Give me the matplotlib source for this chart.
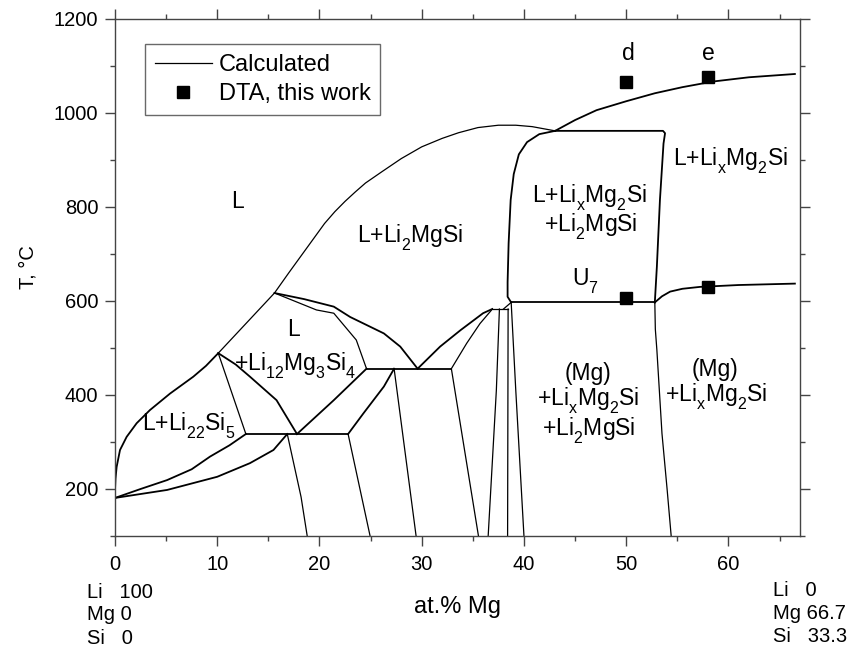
import matplotlib
matplotlib.use("Agg")
import matplotlib.pyplot as plt
import matplotlib._mathtext as mathtext_internals
from matplotlib.lines import Line2D

plt.rcParams['font.family'] = ['Liberation Sans', 'DejaVu Sans']
plt.rcParams['mathtext.fontset'] = 'custom'
plt.rcParams['mathtext.rm'] = 'Liberation Sans'
plt.rcParams['mathtext.it'] = 'Liberation Sans'
plt.rcParams['mathtext.default'] = 'regular'
# the original drops its subscripts deeper than matplotlib does
mathtext_internals.FontConstantsBase.sub1 = 0.62

# phase boundaries, (at.% Mg, T in C)
liq_li22si5 = [(0, 181), (0, 198), (0.05, 222), (0.16, 247), (0.49, 283), (1.14, 311),
               (2.12, 340), (3.42, 368), (5.38, 403), (7.66, 439), (8.9, 462), (10.1, 489)]
solvus_a = [(0, 181), (2.5, 200), (5.1, 219), (7.5, 242), (9.3, 269), (11.2, 293), (12.8, 317)]
solvus_b = [(0, 181), (5.1, 198), (10.0, 226), (13.2, 255), (15.5, 283), (16.85, 317)]
tie_489 = [(10.1, 489), (12.8, 317)]
liq_li12 = [(10.1, 489), (11.8, 465), (13.2, 439), (15.8, 389), (17.8, 317)]
liq_upper = [(10.1, 489), (15.6, 617), (17.0, 660), (18.6, 708), (20.5, 765), (21.5, 790),
             (22.5, 812), (23.5, 832), (24.5, 851), (26.1, 875), (28.0, 903), (30.0, 928),
             (32.0, 946), (33.6, 958), (35.5, 969), (37.5, 974), (39.2, 974), (40.8, 971),
             (43.05, 962)]
curve_li2_a = [(15.6, 617), (18.5, 604), (21.4, 588), (23.0, 566), (26.3, 531), (27.9, 503), (29.6, 456)]
curve_li2_b = [(15.6, 617), (19.7, 581), (21.4, 574), (23.6, 517), (24.6, 456)]
line_318 = [(12.8, 317), (22.8, 317)]
line_456 = [(24.6, 456), (32.9, 456)]
rise_a = [(17.8, 317), (21.4, 389), (24.6, 456)]
rise_b = [(22.8, 317), (24.3, 361), (26.3, 418), (27.3, 456)]
rise_c = [(29.6, 456), (31.8, 503), (33.8, 538), (36.0, 574), (36.9, 583)]
rise_d = [(32.9, 456), (34.4, 510), (35.7, 552), (36.8, 580)]
top_583 = [(36.9, 583), (38.45, 583)]
wedge = [(38.0, 583), (38.75, 597)]
drop_1 = [(16.85, 317), (18.2, 183), (18.8, 100)]
drop_2 = [(22.8, 317), (24.95, 100)]
drop_3 = [(27.3, 456), (29.45, 100)]
drop_4 = [(32.9, 456), (35.55, 100)]
drop_5 = [(37.6, 583), (37.3, 410), (36.5, 100)]
drop_6 = [(38.45, 583), (38.4, 100)]
drop_7 = [(38.75, 597), (39.2, 410), (40.0, 100)]
u7_line = [(38.75, 597), (52.8, 597)]
three_left = [(43.05, 962), (41.5, 955), (40.3, 938), (39.5, 912), (39.0, 870), (38.7, 815),
              (38.5, 723), (38.4, 640), (38.4, 609), (38.75, 597)]
three_top = [(43.05, 962), (53.6, 962), (53.8, 957), (53.65, 935), (53.3, 815), (53.0, 673), (52.8, 597)]
mg_bound = [(52.8, 597), (52.85, 540), (53.0, 496), (53.5, 318), (54.0, 200), (54.4, 100)]
liq_lixmg2si = [(43.05, 962), (45.0, 985), (47.1, 1006), (50.0, 1025), (52.8, 1042),
                (55.5, 1055), (58.5, 1067), (62.0, 1076), (66.5, 1083)]
sol_lixmg2si = [(52.8, 597), (53.5, 610), (54.3, 620), (55.5, 626), (57.2, 630), (61.0, 634), (66.5, 637)]

thick = [liq_li22si5, solvus_a, solvus_b, liq_li12, curve_li2_a, line_318, line_456,
         rise_a, rise_b, rise_c, u7_line, three_left, three_top, liq_lixmg2si, sol_lixmg2si]
thin = [tie_489, liq_upper, curve_li2_b, rise_d, top_583, wedge, drop_1, drop_2, drop_3,
        drop_4, drop_5, drop_6, drop_7, mg_bound]

# DTA points
dta_x = [50, 58, 50, 58]
dta_t = [1067, 1076, 607, 630]

# region labels: text, x, baseline T
labels = [
    ("L", 12.0, 798),
    ("L+Li$_2$MgSi", 28.9, 723),
    ("L+Li$_x$Mg$_2$Si", 46.4, 809),
    ("+Li$_2$MgSi", 46.5, 747),
    ("L+Li$_x$Mg$_2$Si", 60.2, 888),
    ("U$_7$", 46.0, 632),
    ("d", 50.2, 1113),
    ("e", 58.0, 1113),
    ("L", 17.5, 525),
    ("+Li$_{12}$Mg$_3$Si$_4$", 17.6, 452),
    ("L+Li$_{22}$Si$_5$", 7.2, 323),
    ("(Mg)", 46.3, 432),
    ("+Li$_x$Mg$_2$Si", 46.3, 377),
    ("+Li$_2$MgSi", 46.3, 313),
    ("(Mg)", 58.7, 440),
    ("+Li$_x$Mg$_2$Si", 58.8, 386),
]

corner_left = ["Li   100", "Mg 0", "Si   0"]
corner_right = ["Li   0", "Mg 66.7", "Si   33.3"]

W, H = 853, 650
fig = plt.figure(figsize=(W / 100, H / 100), dpi=100)
ax = fig.add_axes([115 / W, 1 - 536 / H, 685 / W, 517 / H])

for c in thick:
    ax.plot([p[0] for p in c], [p[1] for p in c], color='black', lw=1.3)
for c in thin:
    ax.plot([p[0] for p in c], [p[1] for p in c], color='black', lw=0.9)

ax.plot(dta_x, dta_t, 's', color='black', ms=8.5, ls='none')

for txt, x, t in labels:
    ax.text(x, t, txt, ha='center', va='baseline', fontsize=16.5)

ax.set_xlim(0, 67)
ax.set_ylim(100, 1200)
ax.set_xticks([0, 10, 20, 30, 40, 50, 60])
ax.set_xticks(range(5, 67, 10), minor=True)
ax.set_yticks([200, 400, 600, 800, 1000, 1200])
ax.set_yticks([100, 300, 500, 700, 900, 1100], minor=True)
ax.tick_params(which='both', direction='out', top=True, right=True, colors='#444444',
               labelcolor='black', labelsize=14.5, width=1)
ax.tick_params(which='major', length=7)
ax.tick_params(axis='x', which='major', pad=7)
ax.tick_params(axis='y', which='major', pad=5)
ax.tick_params(which='minor', length=3.6)
for s in ax.spines.values():
    s.set_color('#444444')
    s.set_linewidth(1)

ax.set_ylabel("T, °C", fontsize=14.5)
ax.yaxis.set_label_coords(-0.113, 0.52)
ax.set_xlabel("at.% Mg", fontsize=17)
ax.xaxis.set_label_coords(0.5, -0.116)

handles = [Line2D([], [], color='black', lw=0.9),
           Line2D([], [], marker='s', color='black', ls='none', ms=8.5)]
leg = ax.legend(handles, ["Calculated", "DTA, this work"], loc='upper left',
                bbox_to_anchor=(0.0438, 0.9516), borderaxespad=0, fontsize=17,
                frameon=True, fancybox=False, handlelength=2.4, handletextpad=0.3,
                labelspacing=0.32, borderpad=0.42)
leg.get_frame().set_edgecolor('#444444')
leg.get_frame().set_linewidth(1)

for i, s in enumerate(corner_left):
    fig.text(87 / W, 1 - (592 + 23 * i) / H, s, fontsize=14.5, va='center', ha='left')
for i, s in enumerate(corner_right):
    fig.text(773 / W, 1 - (590 + 23.5 * i) / H, s, fontsize=14.5, va='center', ha='left')

fig.savefig("out.png", dpi=100)
